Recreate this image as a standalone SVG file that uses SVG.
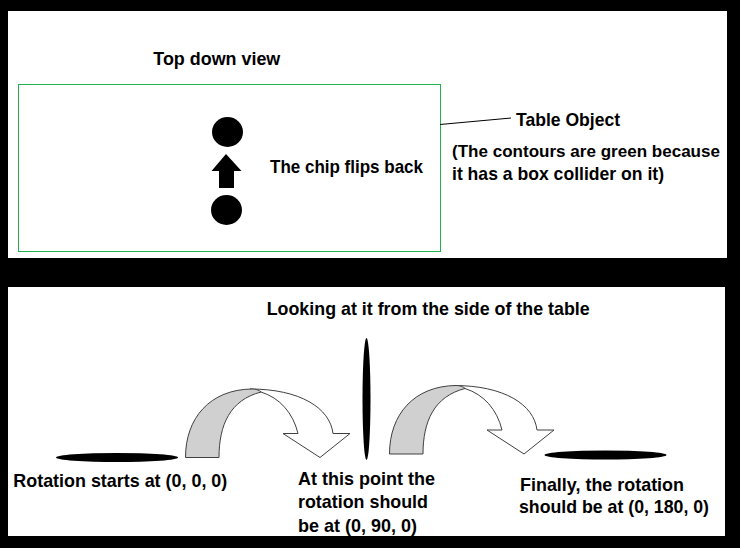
<svg xmlns="http://www.w3.org/2000/svg" xmlns:xlink="http://www.w3.org/1999/xlink" width="740" height="548" viewBox="0 0 740 548">
<style>
.t{font-family:"Liberation Sans",Arial,sans-serif;font-weight:bold;font-size:19px;fill:#000}
.chip{fill:#000}
.rib{stroke:#404040;stroke-width:1;stroke-linejoin:round}
</style>
<defs>
<g id="flip">
<path class="rib" fill="#fff" d="M250,389 C300,389 330,408 333,433.5 L350,433.5 L320,457.5 L283,433.5 L298,433.5 C293,413 280,398 261,392 Z"/>
<path class="rib" fill="#d0d0d0" d="M185.5,457.5 C185.5,418 210,389.5 252,389 C256,389 259,390 261,392 C230,400 219,425 219,457.5 Z"/>
</g>
</defs>
<rect x="0" y="0" width="740" height="548" fill="#000"/>
<rect x="8" y="11" width="719" height="247" fill="#fff"/>
<rect x="8" y="287" width="717" height="249" fill="#fff"/>

<g id="table">
<rect x="18.5" y="84.5" width="422" height="167" fill="none" stroke="#22b14c" stroke-width="1"/>
</g>
<g id="title-top"><text class="t" x="153.3" y="65" textLength="127" lengthAdjust="spacingAndGlyphs">Top down view</text></g>
<g id="chip-top-end"><ellipse class="chip" cx="227.5" cy="132" rx="15.5" ry="15"/></g>
<g id="chip-top-start"><ellipse class="chip" cx="226.5" cy="210" rx="15.5" ry="15"/></g>
<g id="flip-label"><text class="t" x="270" y="172.5" textLength="153" lengthAdjust="spacingAndGlyphs">The chip flips back</text></g>
<g id="table-label">
<text class="t" x="516" y="125.7" textLength="104" lengthAdjust="spacingAndGlyphs">Table Object</text>
<text class="t" x="452" y="156.5" font-size="17" style="font-size:17px" textLength="268" lengthAdjust="spacingAndGlyphs">(The contours are green because</text>
<text class="t" x="452" y="180" textLength="212" lengthAdjust="spacingAndGlyphs">it has a box collider on it)</text>
</g>

<g id="title-side"><text class="t" x="266.7" y="315" textLength="323" lengthAdjust="spacingAndGlyphs">Looking at it from the side of the table</text></g>
<g id="chip-side-start"><ellipse class="chip" cx="117" cy="457.5" rx="61" ry="4.5"/></g>
<g id="chip-side-mid"><ellipse class="chip" cx="366.5" cy="399" rx="4" ry="61"/></g>
<g id="chip-side-end"><ellipse class="chip" cx="605.5" cy="455" rx="61" ry="4.5"/></g>
<g id="label-start"><text class="t" x="13.3" y="486.5" textLength="214" lengthAdjust="spacingAndGlyphs">Rotation starts at (0, 0, 0)</text></g>
<g id="label-mid">
<text class="t" x="298" y="485" textLength="137" lengthAdjust="spacingAndGlyphs">At this point the</text>
<text class="t" x="298" y="508.3" textLength="130" lengthAdjust="spacingAndGlyphs">rotation should</text>
<text class="t" x="298" y="531.7" textLength="119" lengthAdjust="spacingAndGlyphs">be at (0, 90, 0)</text>
</g>
<g id="label-end">
<text class="t" x="520" y="490.7" textLength="164" lengthAdjust="spacingAndGlyphs">Finally, the rotation</text>
<text class="t" x="519" y="513" textLength="190" lengthAdjust="spacingAndGlyphs">should be at (0, 180, 0)</text>
</g>

<g id="connectors">
<line x1="440" y1="124.5" x2="511" y2="118" stroke="#000" stroke-width="1"/>
<polygon fill="#000" points="226,154 241.5,171 234,171 234,188 219,188 219,171 211.5,171"/>
<use xlink:href="#flip"/>
<use xlink:href="#flip" transform="translate(204,-3.5)"/>
</g>
</svg>
